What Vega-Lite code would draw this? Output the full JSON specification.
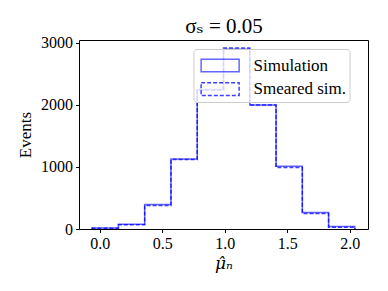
{
  "$schema": "https://vega.github.io/schema/vega-lite/v6.json",
  "autosize": "none",
  "width": 289,
  "height": 189,
  "padding": {"left": 79, "top": 40, "right": 20, "bottom": 62},
  "background": "white",
  "config": {
    "view": {"stroke": "black", "strokeWidth": 1},
    "axis": {"labelFont": "Liberation Serif", "labelFontSize": 16, "labelColor": "black", "tickColor": "black", "tickSize": 3.5, "domain": false, "grid": false, "titleFont": "Liberation Serif", "titleFontSize": 17, "titleFontWeight": "normal", "titleColor": "black", "labelPadding": 3}
  },
  "data": {"values": [
    {"series": "Simulation", "o": 0, "x": -0.06, "y": 0},
    {"series": "Simulation", "o": 1, "x": -0.06, "y": 15},
    {"series": "Simulation", "o": 2, "x": 0.15, "y": 75},
    {"series": "Simulation", "o": 3, "x": 0.36, "y": 395},
    {"series": "Simulation", "o": 4, "x": 0.57, "y": 1130},
    {"series": "Simulation", "o": 5, "x": 0.78, "y": 2250},
    {"series": "Simulation", "o": 6, "x": 0.99, "y": 2900},
    {"series": "Simulation", "o": 7, "x": 1.20, "y": 2000},
    {"series": "Simulation", "o": 8, "x": 1.41, "y": 1010},
    {"series": "Simulation", "o": 9, "x": 1.62, "y": 265},
    {"series": "Simulation", "o": 10, "x": 1.83, "y": 40},
    {"series": "Simulation", "o": 11, "x": 2.04, "y": 0},
    {"series": "Smeared sim.", "o": 0, "x": -0.06, "y": 0},
    {"series": "Smeared sim.", "o": 1, "x": -0.06, "y": 12},
    {"series": "Smeared sim.", "o": 2, "x": 0.15, "y": 70},
    {"series": "Smeared sim.", "o": 3, "x": 0.36, "y": 380},
    {"series": "Smeared sim.", "o": 4, "x": 0.57, "y": 1120},
    {"series": "Smeared sim.", "o": 5, "x": 0.78, "y": 2240},
    {"series": "Smeared sim.", "o": 6, "x": 0.99, "y": 2920},
    {"series": "Smeared sim.", "o": 7, "x": 1.20, "y": 2000},
    {"series": "Smeared sim.", "o": 8, "x": 1.41, "y": 990},
    {"series": "Smeared sim.", "o": 9, "x": 1.62, "y": 250},
    {"series": "Smeared sim.", "o": 10, "x": 1.83, "y": 30},
    {"series": "Smeared sim.", "o": 11, "x": 2.04, "y": 0}
  ]},
  "resolve": {"axis": {"x": "independent"}},
  "layer": [
    {
      "mark": {"type": "line", "interpolate": "step-after", "strokeWidth": 1.5},
      "encoding": {
        "x": {"field": "x", "type": "quantitative", "scale": {"domain": [-0.165, 2.145], "nice": false, "zero": false}, "axis": {"orient": "bottom", "values": [0, 0.5, 1, 1.5, 2], "format": ".1f", "title": "μ̂ₙ", "titleFont": "DejaVu Serif", "titleFontSize": 17, "titleFontStyle": "italic", "titlePadding": 4}},
        "y": {"field": "y", "type": "quantitative", "scale": {"domain": [0, 3048], "nice": false}, "axis": {"values": [0, 1000, 2000, 3000], "format": "d", "title": "Events", "titlePadding": 6}},
        "order": {"field": "o", "type": "quantitative"},
        "color": {"field": "series", "type": "nominal", "scale": {"domain": ["Simulation", "Smeared sim."], "range": ["#0000ff", "#0000ff"]}, "legend": {
          "title": null, "orient": "none", "legendX": 114.5, "legendY": 9, "zindex": 1,
          "symbolType": "M-0.7,-0.5H2.3V0.5H-0.7Z", "symbolSize": 642, "symbolStrokeWidth": 1.5,
          "labelFont": "Liberation Serif", "labelFontSize": 17, "labelColor": "black", "labelOffset": 30,
          "padding": 3, "rowPadding": 0.7, "fillColor": "rgba(255,255,255,0.8)", "strokeColor": "#cccccc", "cornerRadius": 3,
          "encode": {"symbols": {"update": {"fill": {"value": "transparent"}}}}
        }},
        "strokeDash": {"field": "series", "type": "nominal", "scale": {"domain": ["Simulation", "Smeared sim."], "range": [[1, 0], [4, 2]]}},
        "opacity": {"field": "series", "type": "nominal", "scale": {"domain": ["Simulation", "Smeared sim."], "range": [0.6, 0.75]}}
      }
    },
    {
      "mark": {"type": "rule", "opacity": 0},
      "encoding": {
        "x": {"field": "x", "type": "quantitative", "axis": {"orient": "top", "labels": false, "ticks": false, "domain": false, "title": "σₛ = 0.05", "titleFont": "Liberation Serif, DejaVu Serif, serif", "titleFontSize": 21, "titleFontWeight": "normal", "titlePadding": 4}}
      }
    }
  ]
}
